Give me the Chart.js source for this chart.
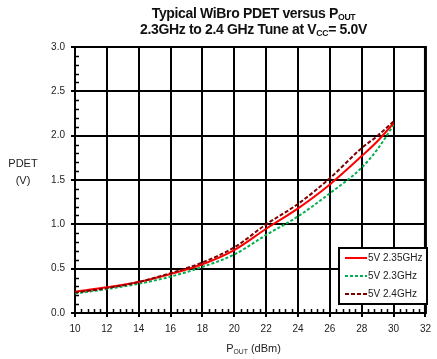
<!DOCTYPE html>
<html>
<head>
<meta charset="utf-8">
<script src="https://cdn.jsdelivr.net/npm/chart.js@4"></script>
<style>
  html, body { margin: 0; padding: 0; background: #fff; }
  #wrap { position: relative; width: 437px; height: 359px; font-family: "Liberation Sans", Arial, sans-serif; color: #222; }
  #chart { position: absolute; left: 0; top: 0; }
  .title { position: absolute; left: 75px; width: 357px; text-align: center; font-weight: bold; font-size: 14px; color: #111; white-space: nowrap; letter-spacing: -0.35px; }
  .title sub, .axis sub { font-size: 0.62em; vertical-align: -0.25em; }
  .axis { position: absolute; font-size: 11px; color: #222; white-space: nowrap; }
</style>
</head>
<body>
<div id="wrap">
  <canvas id="chart" width="437" height="359"></canvas>
  <div class="title" style="top:5px">Typical WiBro PDET versus P<sub>OUT</sub></div>
  <div class="title" style="top:21px">2.3GHz to 2.4 GHz Tune at V<sub>CC</sub>= 5.0V</div>
  <div class="axis" style="left:7px; top:155px; text-align:center; width:32px; line-height:17px">PDET<br>(V)</div>
  <div class="axis" style="left:75px; width:357px; top:342px; text-align:center">P<sub>OUT</sub> (dBm)</div>
</div>
<script>
// output power (dBm) and detector voltage (V) per frequency
const pout = [10, 12, 14, 16, 18, 20, 22, 24, 26, 28, 29, 30];
const pdet235 = [0.24, 0.29, 0.35, 0.44, 0.55, 0.71, 0.95, 1.18, 1.45, 1.77, 1.94, 2.14];
const pdet23 = [0.22, 0.27, 0.33, 0.41, 0.52, 0.66, 0.88, 1.09, 1.35, 1.64, 1.85, 2.12];
const pdet24 = [0.23, 0.28, 0.35, 0.45, 0.57, 0.74, 1.00, 1.23, 1.52, 1.86, 2.00, 2.16];
const labels = ["5V 2.35GHz", "5V 2.3GHz", "5V 2.4GHz"];

const toPoints = (ys) => pout.map((x, i) => ({ x: x, y: ys[i] }));

// small inside ticks between the major grid lines + heavier right frame
const minorTicks = {
    id: "minorTicks",
    beforeDatasetsDraw(chart) {
        const { ctx, chartArea, scales } = chart;
        ctx.save();
        ctx.strokeStyle = "#000";
        ctx.lineWidth = 1.5;
        ctx.beginPath();
        for (let v = 1; v < 30; v++) {
            if (v % 5 === 0) continue;
            const y = Math.round(scales.y.getPixelForValue(v / 10)) + 0.5;
            ctx.moveTo(chartArea.left, y);
            ctx.lineTo(chartArea.left + 4, y);
        }
        for (let k = 1; k < 55; k++) {
            if (k % 5 === 0) continue;
            const x = Math.round(scales.x.getPixelForValue(10 + k * 0.4)) + 0.5;
            ctx.moveTo(x, chartArea.bottom);
            ctx.lineTo(x, chartArea.bottom - 4);
        }
        ctx.stroke();
        ctx.lineWidth = 3;
        ctx.beginPath();
        ctx.moveTo(chartArea.right, chartArea.top - 1);
        ctx.lineTo(chartArea.right, chartArea.bottom + 1);
        ctx.stroke();
        ctx.restore();
    },
};

// boxed legend in the lower right of the plot
const boxLegend = {
    id: "boxLegend",
    afterDatasetsDraw(chart) {
        const { ctx } = chart;
        const order = [0, 1, 2];
        const bx = 339, by = 248, bw = 88, bh = 56;
        ctx.save();
        ctx.fillStyle = "#fff";
        ctx.fillRect(bx, by, bw, bh);
        ctx.strokeStyle = "#000";
        ctx.lineWidth = 2;
        ctx.strokeRect(bx, by, bw, bh);
        ctx.font = "10px 'Liberation Sans', Arial, sans-serif";
        ctx.textBaseline = "middle";
        order.forEach((di, row) => {
            const ds = chart.data.datasets[di];
            const y = by + 10 + row * 18;
            ctx.strokeStyle = ds.borderColor;
            ctx.lineWidth = 2;
            ctx.setLineDash(ds.borderDash || []);
            ctx.beginPath();
            ctx.moveTo(bx + 6, y);
            ctx.lineTo(bx + 28, y);
            ctx.stroke();
            ctx.setLineDash([]);
            ctx.fillStyle = "#222";
            ctx.fillText(ds.label, bx + 29, y + 0.5);
        });
        ctx.restore();
    },
};

new Chart(document.getElementById("chart"), {
    type: "line",
    data: {
        datasets: [
            {
                label: labels[0],
                data: toPoints(pdet235),
                borderColor: "#ff0000",
                borderWidth: 2,
                order: 1,
            },
            {
                label: labels[1],
                data: toPoints(pdet23),
                borderColor: "#00b050",
                borderWidth: 2,
                borderDash: [3, 2],
                order: 2,
            },
            {
                label: labels[2],
                data: toPoints(pdet24),
                borderColor: "#7f0000",
                borderWidth: 2,
                borderDash: [4, 2],
                order: 0,
            },
        ],
    },
    options: {
        responsive: false,
        animation: false,
        events: [],
        cubicInterpolationMode: "monotone",
        elements: { point: { radius: 0 } },
        layout: { padding: { top: 47, right: 5, left: 0, bottom: 0 } },
        plugins: { legend: { display: false }, tooltip: { enabled: false } },
        scales: {
            x: {
                type: "linear",
                min: 10,
                max: 32,
                afterFit(scale) { scale.height = 46; },
                ticks: {
                    stepSize: 2,
                    padding: 6,
                    maxRotation: 0,
                    color: "#222",
                    font: { family: "'Liberation Sans', Arial, sans-serif", size: 10 },
                },
                grid: { color: "#000", lineWidth: 2, tickLength: 4 },
                border: { color: "#000", width: 2 },
            },
            y: {
                min: 0,
                max: 3,
                afterFit(scale) { scale.width = 75; },
                ticks: {
                    stepSize: 0.5,
                    padding: 6,
                    color: "#222",
                    font: { family: "'Liberation Sans', Arial, sans-serif", size: 10 },
                    callback: (v) => v.toFixed(1),
                },
                grid: { color: "#000", lineWidth: 2, tickLength: 4 },
                border: { color: "#000", width: 2 },
            },
        },
    },
    plugins: [minorTicks, boxLegend],
});
</script>
</body>
</html>
